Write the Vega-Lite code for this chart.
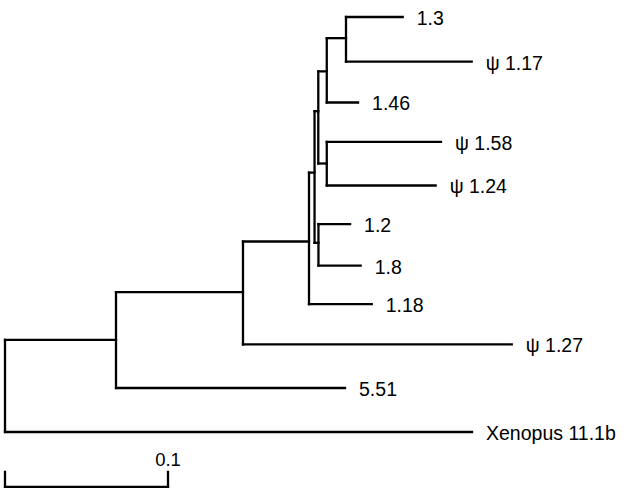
{
  "$schema": "https://vega.github.io/schema/vega-lite/v6.json",
  "width": 626,
  "height": 497,
  "padding": 0,
  "autosize": {"type": "fit", "contains": "padding"},
  "background": "white",
  "config": {"view": {"stroke": null}},
  "datasets": {
    "branches": [
      {"node": "A", "x": 0, "x2": 0.0681, "y": 7.78, "y2": 7.78},
      {"node": "Xenopus 11.1b", "x": 0, "x2": 0.2865, "y": 10, "y2": 10},
      {"node": "B", "x": 0.0681, "x2": 0.146, "y": 6.63, "y2": 6.63},
      {"node": "5.51", "x": 0.0681, "x2": 0.2086, "y": 8.94, "y2": 8.94},
      {"node": "I", "x": 0.146, "x2": 0.1865, "y": 5.41, "y2": 5.41},
      {"node": "ψ 1.27", "x": 0.146, "x2": 0.3109, "y": 7.89, "y2": 7.89},
      {"node": "H", "x": 0.1865, "x2": 0.1899, "y": 3.75, "y2": 3.75},
      {"node": "1.18", "x": 0.1865, "x2": 0.225, "y": 6.92, "y2": 6.92},
      {"node": "F", "x": 0.1899, "x2": 0.1922, "y": 2.27, "y2": 2.27},
      {"node": "J", "x": 0.1899, "x2": 0.1923, "y": 5.44, "y2": 5.44},
      {"node": "E", "x": 0.1922, "x2": 0.1974, "y": 1.31, "y2": 1.31},
      {"node": "G", "x": 0.1922, "x2": 0.1974, "y": 3.53, "y2": 3.53},
      {"node": "D", "x": 0.1974, "x2": 0.2092, "y": 0.51, "y2": 0.51},
      {"node": "1.46", "x": 0.1974, "x2": 0.2166, "y": 2.06, "y2": 2.06},
      {"node": "1.3", "x": 0.2092, "x2": 0.244, "y": 0, "y2": 0},
      {"node": "ψ 1.17", "x": 0.2092, "x2": 0.2863, "y": 1.077, "y2": 1.077},
      {"node": "ψ 1.58", "x": 0.1974, "x2": 0.2675, "y": 3.01, "y2": 3.01},
      {"node": "ψ 1.24", "x": 0.1974, "x2": 0.2642, "y": 4.06, "y2": 4.06},
      {"node": "1.2", "x": 0.1923, "x2": 0.2117, "y": 4.99, "y2": 4.99},
      {"node": "1.8", "x": 0.1923, "x2": 0.2182, "y": 5.99, "y2": 5.99},
      {"node": "root-v", "x": 0, "x2": 0, "y": 7.78, "y2": 10},
      {"node": "A-v", "x": 0.0681, "x2": 0.0681, "y": 6.63, "y2": 8.94},
      {"node": "B-v", "x": 0.146, "x2": 0.146, "y": 5.41, "y2": 7.89},
      {"node": "I-v", "x": 0.1865, "x2": 0.1865, "y": 3.75, "y2": 6.92},
      {"node": "H-v", "x": 0.1899, "x2": 0.1899, "y": 2.27, "y2": 5.44},
      {"node": "F-v", "x": 0.1922, "x2": 0.1922, "y": 1.31, "y2": 3.53},
      {"node": "E-v", "x": 0.1974, "x2": 0.1974, "y": 0.51, "y2": 2.06},
      {"node": "D-v", "x": 0.2092, "x2": 0.2092, "y": 0, "y2": 1.077},
      {"node": "G-v", "x": 0.1974, "x2": 0.1974, "y": 3.01, "y2": 4.06},
      {"node": "J-v", "x": 0.1923, "x2": 0.1923, "y": 4.99, "y2": 5.99},
      {"node": "scale", "x": 0, "x2": 0.1, "y": 11.32, "y2": 11.32},
      {"node": "scale-l", "x": 0, "x2": 0, "y": 10.96, "y2": 11.32},
      {"node": "scale-r", "x": 0.1, "x2": 0.1, "y": 10.96, "y2": 11.32}
    ],
    "leaves": [
      {"label": "1.3", "x": 0.244, "y": 0},
      {"label": "ψ 1.17", "x": 0.2863, "y": 1.077},
      {"label": "1.46", "x": 0.2166, "y": 2.06},
      {"label": "ψ 1.58", "x": 0.2675, "y": 3.01},
      {"label": "ψ 1.24", "x": 0.2642, "y": 4.06},
      {"label": "1.2", "x": 0.2117, "y": 4.99},
      {"label": "1.8", "x": 0.2182, "y": 5.99},
      {"label": "1.18", "x": 0.225, "y": 6.92},
      {"label": "ψ 1.27", "x": 0.3109, "y": 7.89},
      {"label": "5.51", "x": 0.2086, "y": 8.94},
      {"label": "Xenopus 11.1b", "x": 0.2865, "y": 10}
    ],
    "scalelabel": [
      {"label": "0.1", "x": 0.1, "y": 10.67}
    ]
  },
  "layer": [
    {
      "data": {"name": "branches"},
      "mark": {"type": "rule", "color": "black", "strokeWidth": 2.3, "strokeCap": "square"},
      "encoding": {
        "x": {"field": "x", "type": "quantitative", "scale": {"domain": [-0.00307, 0.38098], "nice": false, "zero": false}, "axis": null},
        "x2": {"field": "x2"},
        "y": {"field": "y", "type": "quantitative", "scale": {"domain": [-0.4096, 11.566], "reverse": true, "nice": false, "zero": false}, "axis": null},
        "y2": {"field": "y2"}
      }
    },
    {
      "data": {"name": "leaves"},
      "mark": {"type": "text", "align": "left", "baseline": "middle", "dx": 14, "dy": 2, "fontSize": 19.5, "font": "Liberation Sans", "color": "black"},
      "encoding": {
        "x": {"field": "x", "type": "quantitative"},
        "y": {"field": "y", "type": "quantitative"},
        "text": {"field": "label"}
      }
    },
    {
      "data": {"name": "scalelabel"},
      "mark": {"type": "text", "align": "center", "baseline": "middle", "fontSize": 18.5, "font": "Liberation Sans", "color": "black"},
      "encoding": {
        "x": {"field": "x", "type": "quantitative"},
        "y": {"field": "y", "type": "quantitative"},
        "text": {"field": "label"}
      }
    }
  ]
}
